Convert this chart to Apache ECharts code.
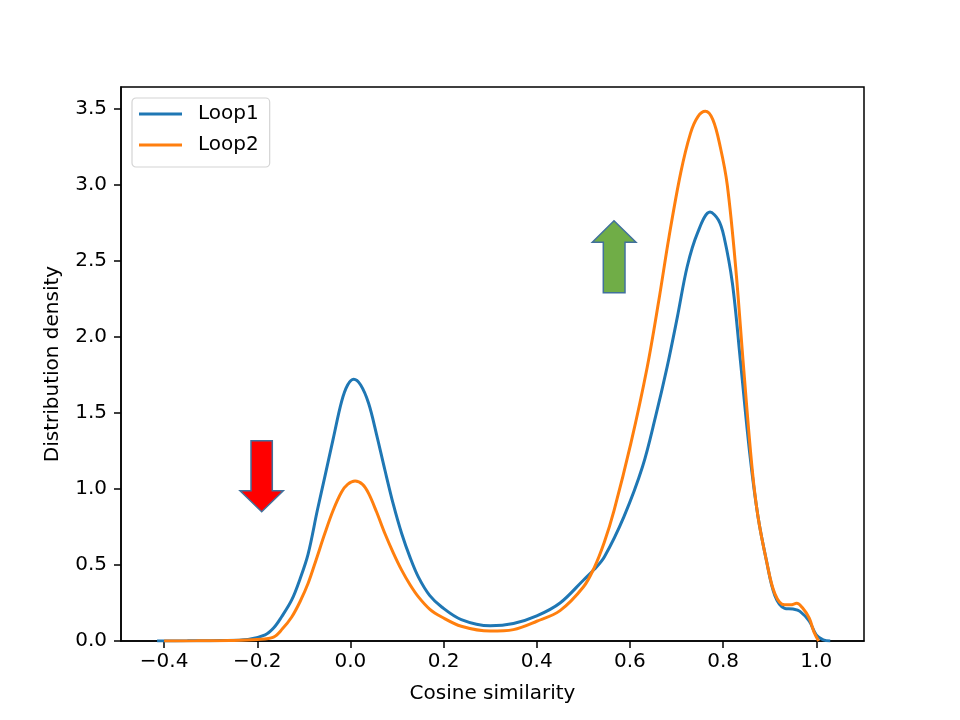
<!DOCTYPE html>
<html>
<head>
<meta charset="utf-8">
<title>Cosine similarity density</title>
<script src="https://cdn.jsdelivr.net/npm/echarts@6/dist/echarts.min.js"></script>
<style>
  html, body { margin: 0; padding: 0; background: #fff; }
  #chart { width: 960px; height: 720px; }
</style>
</head>
<body>
<div id="chart"></div>
<script>
// KDE curves
const loop1X = [-0.415, -0.35, -0.28, -0.22, -0.183, -0.165, -0.148, -0.126, -0.108, -0.091, -0.071, -0.055, -0.037, -0.019, -0.006, 0.007, 0.022, 0.039, 0.056, 0.074, 0.092, 0.110, 0.128, 0.146, 0.17, 0.196, 0.238, 0.30, 0.35, 0.40, 0.45, 0.50, 0.523, 0.545, 0.587, 0.627, 0.655, 0.680, 0.702, 0.723, 0.745, 0.772, 0.790, 0.802, 0.820, 0.837, 0.857, 0.875, 0.893, 0.911, 0.932, 0.95, 0.965, 0.985, 1.0, 1.015, 1.03]
const loop1Y = [0, 0.001, 0.003, 0.01, 0.04, 0.085, 0.158, 0.27, 0.41, 0.57, 0.86, 1.08, 1.33, 1.575, 1.684, 1.722, 1.684, 1.564, 1.36, 1.125, 0.90, 0.707, 0.55, 0.42, 0.30, 0.224, 0.141, 0.10, 0.115, 0.165, 0.25, 0.40, 0.47, 0.553, 0.817, 1.146, 1.476, 1.805, 2.134, 2.464, 2.684, 2.822, 2.77, 2.66, 2.354, 1.85, 1.24, 0.817, 0.53, 0.30, 0.215, 0.21, 0.195, 0.13, 0.04, 0.008, 0]

const loop2X = [-0.40, -0.33, -0.26, -0.2, -0.165, -0.146, -0.126, -0.108, -0.091, -0.073, -0.055, -0.037, -0.019, -0.006, 0.01, 0.026, 0.039, 0.056, 0.074, 0.092, 0.110, 0.128, 0.146, 0.17, 0.196, 0.238, 0.30, 0.35, 0.40, 0.45, 0.50, 0.523, 0.545, 0.566, 0.602, 0.637, 0.662, 0.684, 0.709, 0.730, 0.746, 0.762, 0.778, 0.794, 0.809, 0.827, 0.844, 0.862, 0.875, 0.893, 0.911, 0.932, 0.945, 0.958, 0.97, 0.985, 0.995, 1.005]
const loop2Y = [0, 0.001, 0.003, 0.01, 0.026, 0.08, 0.158, 0.26, 0.378, 0.54, 0.707, 0.86, 0.98, 1.03, 1.052, 1.03, 0.971, 0.85, 0.707, 0.58, 0.466, 0.37, 0.29, 0.21, 0.158, 0.097, 0.065, 0.075, 0.13, 0.20, 0.355, 0.48, 0.65, 0.86, 1.30, 1.80, 2.24, 2.66, 3.08, 3.34, 3.45, 3.485, 3.43, 3.25, 3.00, 2.46, 1.80, 1.146, 0.817, 0.53, 0.312, 0.238, 0.238, 0.248, 0.22, 0.15, 0.06, 0]

const xTicks = [-0.4, -0.2, 0.0, 0.2, 0.4, 0.6, 0.8, 1.0]
const yTicks = [0.0, 0.5, 1.0, 1.5, 2.0, 2.5, 3.0, 3.5]

const seriesNames = ['Loop1', 'Loop2']
const xName = 'Cosine similarity'
const yName = 'Distribution density'

const FONT = 'DejaVu Sans'
const pairs = (xs, ys) => xs.map((x, i) => [x, ys[i]])
const fmt = (v) => v.toFixed(1).replace('-', '\u2212')

const chart = echarts.init(document.getElementById('chart'), null, { renderer: 'canvas' })

chart.setOption({
  animation: false,
  color: ['#1f77b4', '#ff7f0e'],
  grid: {
    left: 121, right: 96, top: 87, bottom: 79,
    show: true, borderColor: '#000', borderWidth: 1.5
  },
  legend: {
    data: seriesNames,
    orient: 'vertical',
    left: 132, top: 98,
    icon: 'rect',
    itemWidth: 43, itemHeight: 3,
    itemGap: 11,
    padding: [6, 11, 12, 7],
    borderColor: '#d4d4d4', borderWidth: 1.2, borderRadius: 4,
    backgroundColor: 'rgba(255,255,255,0.8)',
    textStyle: { fontFamily: FONT, fontSize: 20, color: '#000', padding: [0, 0, 0, 11] }
  },
  xAxis: {
    type: 'value',
    min: -0.4925, max: 1.1025,
    name: xName, nameLocation: 'middle', nameGap: 43,
    nameTextStyle: { fontFamily: FONT, fontSize: 20, color: '#000' },
    axisLine: { onZero: false, lineStyle: { color: '#000', width: 1.5 } },
    axisTick: { length: 7, customValues: xTicks, lineStyle: { color: '#000', width: 1.5 } },
    axisLabel: { margin: 11, fontFamily: FONT, fontSize: 20, color: '#000', customValues: xTicks, formatter: fmt },
    splitLine: { show: false }
  },
  yAxis: {
    type: 'value',
    min: 0, max: 3.645,
    name: yName, nameLocation: 'middle', nameGap: 58,
    nameTextStyle: { fontFamily: FONT, fontSize: 20, color: '#000' },
    axisLine: { show: true, onZero: false, lineStyle: { color: '#000', width: 1.5 } },
    axisTick: { show: true, length: 7, customValues: yTicks, lineStyle: { color: '#000', width: 1.5 } },
    axisLabel: { margin: 14, fontFamily: FONT, fontSize: 20, color: '#000', customValues: yTicks, formatter: fmt },
    splitLine: { show: false }
  },
  series: [
    {
      name: seriesNames[0], type: 'line', data: pairs(loop1X, loop1Y),
      showSymbol: false, smooth: 0.35,
      lineStyle: { width: 3 }, z: 2
    },
    {
      name: seriesNames[1], type: 'line', data: pairs(loop2X, loop2Y),
      showSymbol: false, smooth: 0.35,
      lineStyle: { width: 3 }, z: 3
    }
  ],
  graphic: [
    {
      // red "down" arrow
      type: 'polygon',
      shape: { points: [[251, 440.7], [272.3, 440.7], [272.3, 490.7], [283.3, 490.7], [261.7, 511.7], [240, 490.7], [251, 490.7]] },
      style: { fill: '#ff0000', stroke: '#41719c', lineWidth: 1.5 }
    },
    {
      // green "up" arrow
      type: 'polygon',
      shape: { points: [[614, 220.7], [636, 242.3], [625, 242.3], [625, 292.7], [603.3, 292.7], [603.3, 242.3], [592.3, 242.3]] },
      style: { fill: '#70ad47', stroke: '#41719c', lineWidth: 1.5 }
    }
  ]
})

window.addEventListener('resize', () => chart.resize())
</script>
</body>
</html>
